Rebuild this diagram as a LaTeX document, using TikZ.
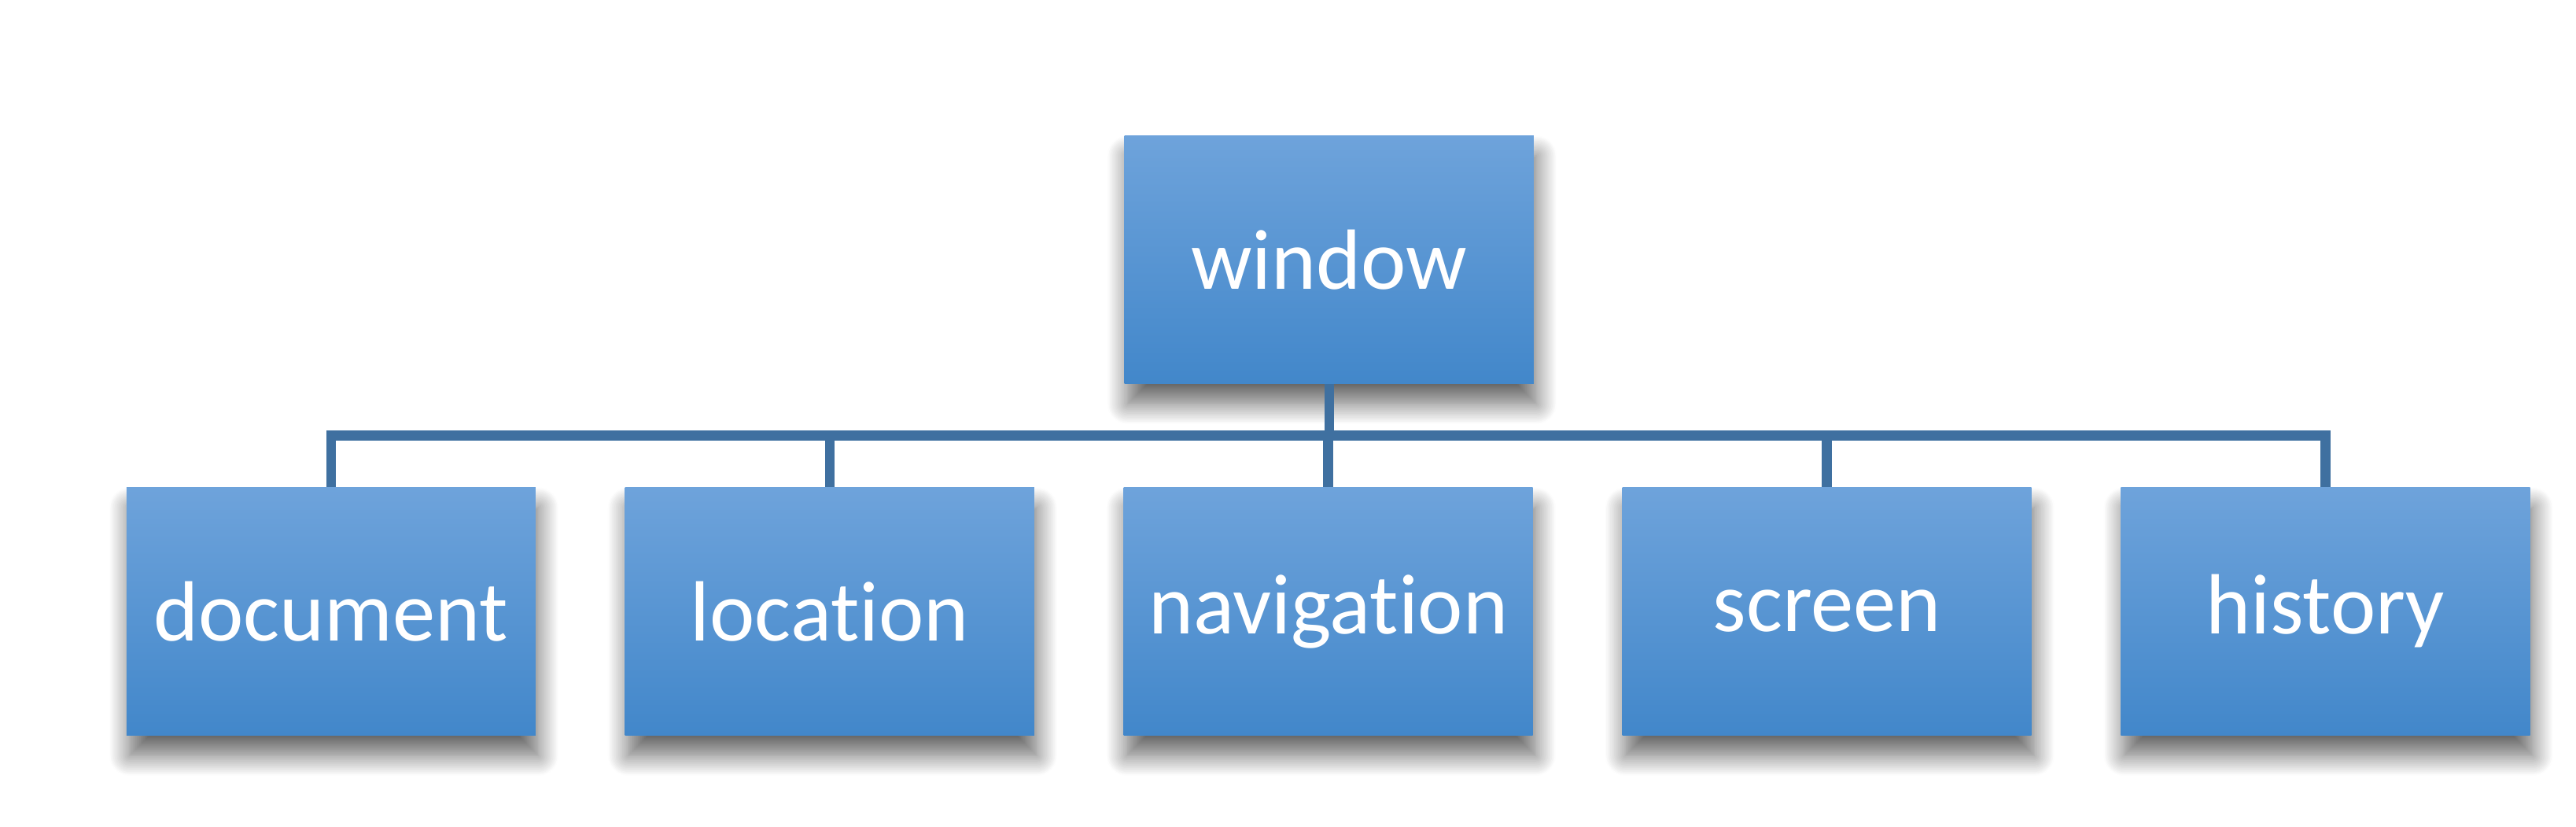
\documentclass[tikz,border=0pt]{standalone}
\usepackage{fontspec}
\setmainfont{Carlito}[Ligatures=NoCommon]
\usetikzlibrary{positioning,shadows.blur}
\definecolor{BoxTop}{HTML}{6EA3DB}
\definecolor{BoxBottom}{HTML}{4287CA}
\definecolor{LinkBlue}{HTML}{3F70A0}

\begin{document}
\begin{tikzpicture}[
  item/.style={top color=BoxTop, bottom color=BoxBottom, draw=none, minimum width=4.98cm, minimum height=3.02cm, text=white, font=\fontsize{29.6}{32}\selectfont, blur shadow={shadow xshift=1pt, shadow yshift=-7pt, shadow blur radius=7pt, shadow blur steps=16, shadow opacity=60}},
  link/.style={draw=LinkBlue, line width=3.4pt}
]
\useasboundingbox (0,0) rectangle (31.36,10.06);
\node[item] (window) at (16.18,6.9) {window};
\node[item] (document) at (4.03,2.62) {document};
\node[item] (location) at (10.10,2.62) {location};
\node[item] (navigation) at (16.17,2.62) {navigation};
\node[item] (screen) at (22.24,2.62) {screen};
\node[item] (history) at (28.31,2.62) {history};
\coordinate (bus) at (16.17,4.76);
% tree lines
\draw[link] (document.north) |- (history.north |- bus) -- (history.north);
\draw[link] (window.south) -- (window.south |- bus);
\draw[link] (location.north) -- (location.north |- bus);
\draw[link] (navigation.north) -- (navigation.north |- bus);
\draw[link] (screen.north) -- (screen.north |- bus);
\end{tikzpicture}
\end{document}
